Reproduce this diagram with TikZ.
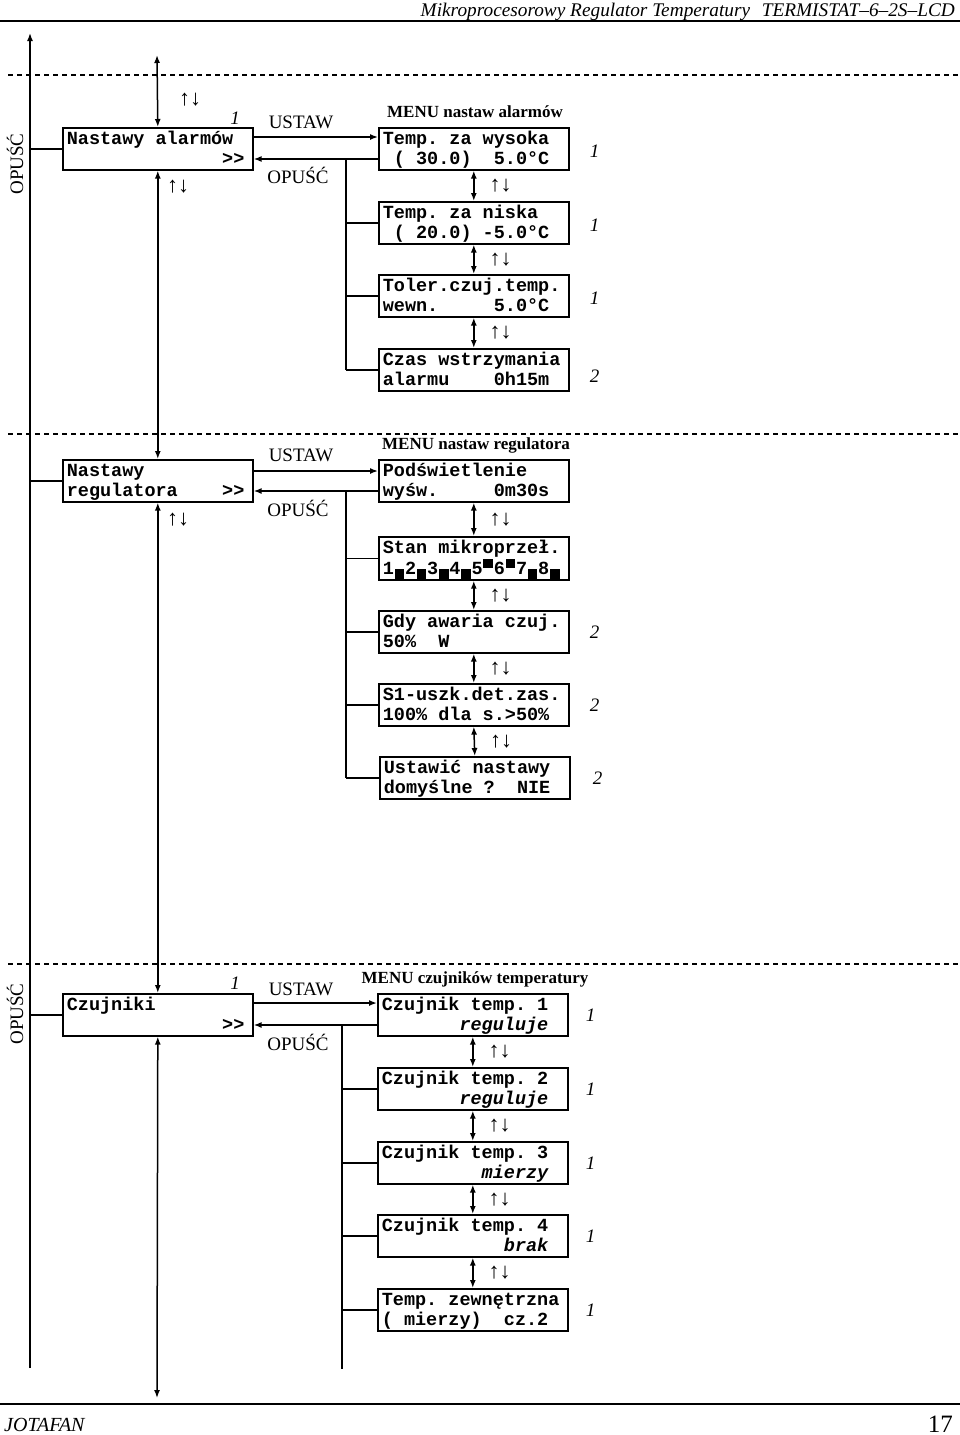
\documentclass[tikz,border=0pt]{standalone}
\usepackage{fontspec}
\setmainfont{Liberation Serif}
\setmonofont{Liberation Mono}
\usetikzlibrary{arrows.meta,calc}
\newcommand{\lcdfont}{\fontsize{18.5}{20}\selectfont\ttfamily\bfseries\frenchspacing}
\newcommand{\lcd}[2]{\spaceskip=0.6em plus 0pt minus 0pt\relax\xspaceskip=\spaceskip\rule{0pt}{17pt}#1\\#2\rule[-5pt]{0pt}{5pt}}
\newcommand{\bl}[1]{\hspace*{#1\fontcharwd\font`0}}
\newcommand{\sqlo}{\makebox[0.6em][c]{\rule[-0.22em]{0.52em}{0.55em}}}
\newcommand{\sqhi}{\makebox[0.6em][c]{\rule[0.38em]{0.52em}{0.5em}}}
\tikzset{
 ln/.style={line width=1.5pt},
 arr/.style={ln,-{Latex[length=8pt,width=6pt]}},
 dbl/.style={ln,{Latex[length=8pt,width=6pt]}-{Latex[length=8pt,width=6pt]}},
 lcd/.style={draw,line width=1.6pt,anchor=north west,minimum height=42pt,inner xsep=4pt,inner ysep=0pt,text width=182pt,align=left,font=\lcdfont},
 lbl/.style={font=\fontsize{19}{20}\selectfont,inner sep=0pt},
 num/.style={font=\fontsize{19}{20}\selectfont\itshape,inner sep=0pt},
 head/.style={font=\fontsize{17}{20}\selectfont\bfseries,inner sep=0pt,anchor=base},
 ud/.style={font=\fontsize{22}{22}\selectfont,inner sep=0pt},
 dashline/.style={line width=1.3pt,dash pattern=on 5pt off 4pt},
}
\begin{document}
\begin{tikzpicture}[x=1pt,y=-1pt]
\useasboundingbox (0,0) rectangle (960,1435);
% page frame
\node[font=\fontsize{19.3}{20}\selectfont\itshape,inner sep=0pt,anchor=base east] (hdr) at (955,16) {Mikroprocesorowy Regulator Temperatury\hspace{0.6em}TERMISTAT--6--2S--LCD};
\draw[line width=2pt] (0,21) -- (960,21);
\draw[line width=2pt] (0,1404) -- (960,1404);
\node[font=\fontsize{20}{22}\selectfont\itshape,inner sep=0pt,anchor=base west] (foot) at (4,1431) {JOTAFAN};
\node[font=\fontsize{25}{26}\selectfont,inner sep=0pt,anchor=base east] (pg) at (953,1432) {17};
% dashed separators
\draw[dashline] (8,75) -- (960,75);
\draw[dashline] (8,434) -- (960,434);
\draw[dashline] (8,964) -- (960,964);
% main boxes
\node[lcd] (m1) at (62,127) {\lcd{Nastawy alarmów}{\bl{14}>{}>}};
\node[lcd] (m2) at (62,459) {\lcd{Nastawy}{regulatora\bl{4}>{}>}};
\node[lcd] (m3) at (62,993) {\lcd{Czujniki}{\bl{14}>{}>}};
% left spine
\coordinate (ltop) at (30,33);
\coordinate (lbot) at (30,1368);
\draw[arr] (lbot) -- (ltop);
\draw[ln] (m1.west) -- (m1.west -| ltop);
\draw[ln] (m2.west) -- (m2.west -| ltop);
\draw[ln] (m3.west) -- (m3.west -| ltop);
\node[lbl,rotate=90] (op1) at (15,164) {OPUŚĆ};
\node[lbl,rotate=90] (op3) at (15,1014) {OPUŚĆ};
% central column
\coordinate (ctop) at (157,55);
\coordinate (cbot) at (157,1398);
\draw[dbl] (ctop) -- (m1.north);
\draw[dbl] (m1.south) -- (m2.north);
\draw[dbl] (m2.south) -- (m3.north);
\draw[dbl] (m3.south) -- (cbot);
\node[ud,anchor=west] (u0) at (179,100) {↑↓};
\node[ud,anchor=west] (u1) at (167,187) {↑↓};
\node[ud,anchor=west] (u2) at (167,520) {↑↓};
\node[num] (n1) at (235,118) {1};
\node[num] (n3) at (235,983) {1};
% ---- section 1
\node[head] (h1) at (475,117) {MENU nastaw alarmów};
\node[lcd] (a1) at (378,127) {\lcd{Temp. za wysoka}{\bl{1}( 30.0)\bl{2}5.0°C}};
\node[lcd] (a2) at (378,201) {\lcd{Temp. za niska}{\bl{1}( 20.0) -5.0°C}};
\node[lcd] (a3) at (378,274) {\lcd{Toler.czuj.temp.}{wewn.\bl{5}5.0°C}};
\node[lcd] (a4) at (378,348) {\lcd{Czas wstrzymania}{alarmu\bl{4}0h15m}};
\coordinate (i1) at ($(m1.north east)+(0,10)$);
\coordinate (o1) at ($(a1.north west)+(0,32)$);
\coordinate (s1) at (346,0);
\draw[arr] (i1) -- (i1 -| a1.west);
\draw[arr] (o1) -- (o1 -| m1.east);
\draw[ln] (o1 -| s1) -- (a4.west -| s1);
\draw[ln] (a2.west) -- (a2.west -| s1);
\draw[ln] (a3.west) -- (a3.west -| s1);
\draw[ln] (a4.west) -- (a4.west -| s1);
\node[lbl] (us1) at (301,122) {USTAW};
\node[lbl] (os1) at (298,175) {OPUŚĆ};
\draw[dbl] (a1.south) -- node[ud,right=15pt] {↑↓} (a2.north);
\draw[dbl] (a2.south) -- node[ud,right=15pt] {↑↓} (a3.north);
\draw[dbl] (a3.south) -- node[ud,right=15pt] {↑↓} (a4.north);
\node[num] (ra1) at ($(a1.east)+(25,2)$) {1};
\node[num] (ra2) at ($(a2.east)+(25,2)$) {1};
\node[num] (ra3) at ($(a3.east)+(25,2)$) {1};
\node[num] (ra4) at ($(a4.east)+(25,6)$) {2};
% ---- section 2
\node[head] (h2) at (476,449) {MENU nastaw regulatora};
\node[lcd] (b1) at (378,459) {\lcd{Podświetlenie}{wyśw.\bl{5}0m30s}};
\node[lcd] (b2) at (378,536) {\lcd{Stan mikroprzeł.}{1\sqlo2\sqlo3\sqlo4\sqlo5\sqhi6\sqhi7\sqlo8\sqlo}};
\node[lcd] (b3) at (378,610) {\lcd{Gdy awaria czuj.}{50\%\bl{2}W}};
\node[lcd] (b4) at (378,683) {\lcd{S1-uszk.det.zas.}{100\% dla s.>50\%}};
\node[lcd] (b5) at (379,756) {\lcd{Ustawić nastawy}{domyślne ?\bl{2}NIE}};
\coordinate (i2) at ($(m2.north east)+(0,12)$);
\coordinate (o2) at ($(b1.north west)+(0,32)$);
\coordinate (s2) at (346,0);
\draw[arr] (i2) -- (i2 -| b1.west);
\draw[arr] (o2) -- (o2 -| m2.east);
\draw[ln] (o2 -| s2) -- (b5.west -| s2);
\draw[ln] (b2.west) -- (b2.west -| s2);
\draw[ln] (b3.west) -- (b3.west -| s2);
\draw[ln] (b4.west) -- (b4.west -| s2);
\draw[ln] (b5.west) -- (b5.west -| s2);
\node[lbl] (us2) at (301,455) {USTAW};
\node[lbl] (os2) at (298,508) {OPUŚĆ};
\draw[dbl] (b1.south) -- node[ud,right=15pt] {↑↓} (b2.north);
\draw[dbl] (b2.south) -- node[ud,right=15pt] {↑↓} (b3.north);
\draw[dbl] (b3.south) -- node[ud,right=15pt] {↑↓} (b4.north);
\draw[dbl] (b4.south) -- node[ud,right=15pt] {↑↓} (b5.north);
\node[num] (rb3) at ($(b3.east)+(25,0)$) {2};
\node[num] (rb4) at ($(b4.east)+(25,0)$) {2};
\node[num] (rb5) at ($(b5.east)+(27,0)$) {2};
% ---- section 3
\node[head] (h3) at (475,983) {MENU czujników temperatury};
\node[lcd] (c1) at (377,993) {\lcd{Czujnik temp. 1}{\bl{7}\textit{reguluje}}};
\node[lcd] (c2) at (377,1067) {\lcd{Czujnik temp. 2}{\bl{7}\textit{reguluje}}};
\node[lcd] (c3) at (377,1141) {\lcd{Czujnik temp. 3}{\bl{9}\textit{mierzy}}};
\node[lcd] (c4) at (377,1214) {\lcd{Czujnik temp. 4}{\bl{11}\textit{brak}}};
\node[lcd] (c5) at (377,1288) {\lcd{Temp. zewnętrzna}{( mierzy)\bl{2}cz.2}};
\coordinate (i3) at ($(m3.north east)+(0,10)$);
\coordinate (o3) at ($(c1.north west)+(0,32)$);
\coordinate (s3) at (342,0);
\coordinate (s3bot) at (342,1369);
\draw[arr] (i3) -- (i3 -| c1.west);
\draw[arr] (o3) -- (o3 -| m3.east);
\draw[ln] (o3 -| s3) -- (s3bot);
\draw[ln] (c2.west) -- (c2.west -| s3);
\draw[ln] (c3.west) -- (c3.west -| s3);
\draw[ln] (c4.west) -- (c4.west -| s3);
\draw[ln] (c5.west) -- (c5.west -| s3);
\node[lbl] (us3) at (301,989) {USTAW};
\node[lbl] (os3) at (298,1042) {OPUŚĆ};
\draw[dbl] (c1.south) -- node[ud,right=15pt] {↑↓} (c2.north);
\draw[dbl] (c2.south) -- node[ud,right=15pt] {↑↓} (c3.north);
\draw[dbl] (c3.south) -- node[ud,right=15pt] {↑↓} (c4.north);
\draw[dbl] (c4.south) -- node[ud,right=15pt] {↑↓} (c5.north);
\node[num] (rc1) at ($(c1.east)+(22,0)$) {1};
\node[num] (rc2) at ($(c2.east)+(22,0)$) {1};
\node[num] (rc3) at ($(c3.east)+(22,0)$) {1};
\node[num] (rc4) at ($(c4.east)+(22,0)$) {1};
\node[num] (rc5) at ($(c5.east)+(22,0)$) {1};
\end{tikzpicture}
\end{document}
